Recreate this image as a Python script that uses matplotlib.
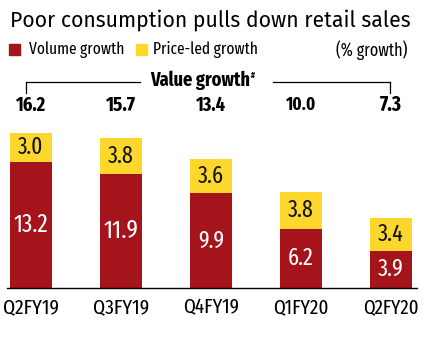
import matplotlib
matplotlib.use("Agg")
import matplotlib.pyplot as plt
from matplotlib import font_manager as fm
from matplotlib.transforms import blended_transform_factory

categories = ["Q2FY19", "Q3FY19", "Q4FY19", "Q1FY20", "Q2FY20"]
volume = [13.2, 11.9, 9.9, 6.2, 3.9]
price = [3.0, 3.8, 3.6, 3.8, 3.4]
value_total = ["16.2", "15.7", "13.4", "10.0", "7.3"]

RED = "#a5141a"
YEL = "#fed72d"

_names = {f.name for f in fm.fontManager.ttflist}
def pick(prefs):
    for p in prefs:
        if p in _names:
            return p
    return "DejaVu Sans"

BODY = pick(["Fira Sans Extra Condensed", "Fira Sans Condensed", "Roboto Condensed",
             "Open Sans Condensed", "PT Sans Narrow", "Liberation Sans Narrow", "Archivo Narrow"])
TITLE = pick(["Fira Sans", "Open Sans", "Noto Sans"])

W, H = 428, 345
fig = plt.figure(figsize=(W / 100, H / 100), dpi=100)
fig.patch.set_facecolor("white")
renderer = fig.canvas.get_renderer()

def fit(t, target_w):
    bb = t.get_window_extent(renderer=renderer)
    if bb.width > 0:
        t.set_fontsize(t.get_fontsize() * target_w / bb.width)
    return t

def px(x, y):
    return x / W, 1 - y / H

ax_left, ax_right, ax_bottom, ax_top = 7, 417, 288, 133
ax = fig.add_axes([ax_left / W, 1 - ax_bottom / H, (ax_right - ax_left) / W, (ax_bottom - ax_top) / H])
ax.set_xlim(-0.267, 4.294)
ax.set_ylim(0, 16.2)
ax.axis("off")
ax.axhline(0, color="black", lw=1.0, clip_on=False)

xs = list(range(len(categories)))
bw = 0.467
ax.bar(xs, volume, width=bw, color=RED, clip_on=False)
ax.bar(xs, price, width=bw, bottom=volume, color=YEL, clip_on=False)

for x, v, p in zip(xs, volume, price):
    t1 = ax.text(x, v / 2, f"{v:.1f}", ha="center", va="center", color="white",
                 fontsize=15, family=BODY)
    fit(t1, 35 if v >= 10 else 26)
    t2 = ax.text(x, v + p / 2, f"{p:.1f}", ha="center", va="center", color="#111111",
                 fontsize=15, family=BODY)
    fit(t2, 26)

tr = blended_transform_factory(ax.transData, fig.transFigure)
for x, t, c in zip(xs, value_total, categories):
    tt = ax.text(x, 1 - 105 / H, t, ha="center", va="center", fontsize=14,
                 fontweight="bold", transform=tr, family=BODY)
    fit(tt, 30 if len(t) == 4 else 22)
    tc = ax.text(x, 1 - 307 / H, c, ha="center", va="center", fontsize=15,
                 transform=tr, family=BODY)
    fit(tc, 56)

# Title
fit(fig.text(*px(10, 20), "Poor consumption pulls down retail sales", ha="left",
             va="center", fontsize=17, family=TITLE), 400)

# Legend
fig.patches.append(plt.Rectangle(px(9, 55), 11 / W, 11 / H, color=RED,
                                 transform=fig.transFigure, figure=fig))
fit(fig.text(*px(29, 50), "Volume growth", ha="left", va="center", fontsize=13,
             family=BODY), 96)
fig.patches.append(plt.Rectangle(px(136, 55), 11 / W, 11 / H, color=YEL,
                                 transform=fig.transFigure, figure=fig))
fit(fig.text(*px(153, 50), "Price-led growth", ha="left", va="center", fontsize=13,
             family=BODY), 105)
fit(fig.text(*px(407, 50), "(% growth)", ha="right", va="center", fontsize=13,
             family=BODY), 72)

# Value growth bracket
fit(fig.text(*px(150, 80), "Value growth", ha="left", va="center", fontsize=14,
             fontweight="bold", family=BODY), 100)
fig.text(*px(251, 75), "#", ha="left", va="center", fontsize=6,
         fontweight="bold", family=BODY)
lc = "black"
fig.add_artist(plt.Line2D([26 / W, 140 / W], [1 - 82 / H] * 2, color=lc, lw=0.9))
fig.add_artist(plt.Line2D([273 / W, 390 / W], [1 - 82 / H] * 2, color=lc, lw=0.9))
fig.add_artist(plt.Line2D([26 / W] * 2, [1 - 82 / H, 1 - 93 / H], color=lc, lw=0.9))
fig.add_artist(plt.Line2D([390 / W] * 2, [1 - 82 / H, 1 - 93 / H], color=lc, lw=0.9))

fig.savefig("out.png", dpi=100, facecolor="white")
